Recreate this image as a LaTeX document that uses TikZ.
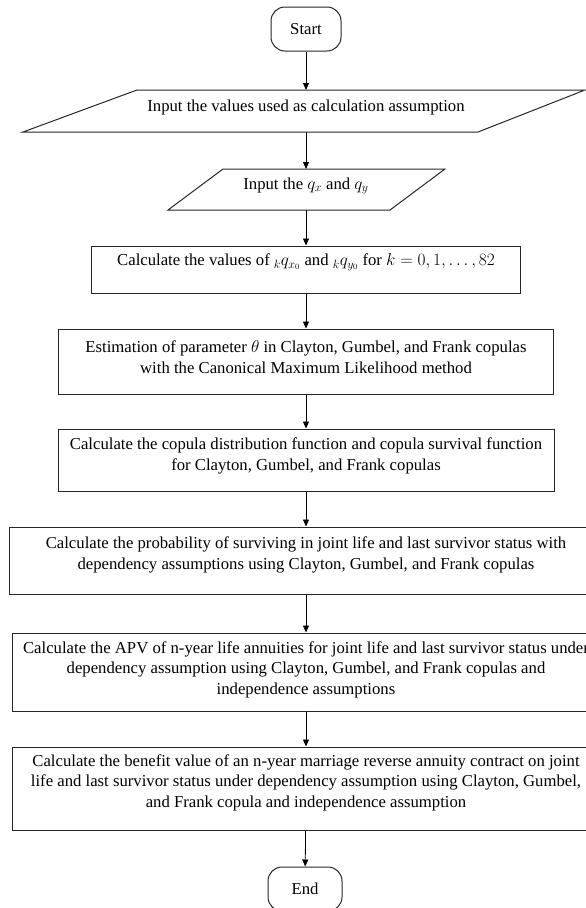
\documentclass[tikz,border=0pt]{standalone}
\usepackage{fontspec}
\setmainfont{Liberation Serif}
\usetikzlibrary{arrows.meta}
\tikzset{
  boxline/.style={draw=black!85, line width=1pt},
  procbox/.style={boxline, rectangle, inner sep=0pt},
  termbox/.style={boxline, rectangle, rounded corners=14pt, inner sep=0pt, minimum width=#1, minimum height=44pt, font=\fontsize{16.7}{20.5}\selectfont},
  txt/.style={align=center, inner sep=0pt, font=\fontsize{16.7}{20.5}\selectfont},
  arr/.style={draw=black, line width=0.8pt, -{Triangle[length=7pt,width=6pt]}},
}
\begin{document}
\begin{tikzpicture}[x=1pt,y=-1pt]
\useasboundingbox (0,0) rectangle (586,908);
% terminals
\node[termbox=70pt] (start) at (306,29) {Start};
\node[termbox=74pt] (stop) at (305,889) {End};
% input parallelograms
\draw[boxline] (137,90) -- (585,90) -- (478,132) -- (23,132) -- cycle;
\coordinate (in1t) at (306,90);
\coordinate (in1b) at (306,132);
\node[txt] (in1) at (306,107) {Input the values used as calculation assumption};
\draw[boxline] (223,169) -- (445,169) -- (390,210) -- (168,210) -- cycle;
\coordinate (in2t) at (306,169);
\coordinate (in2b) at (306,210);
\node[txt] (in2) at (306,186) {Input the $q_x$ and $q_y$};
% process boxes
\node[procbox, minimum width=429pt, minimum height=47pt] (r3) at (306,269.5) {};
\node[txt] (t3) at (306,262) {Calculate the values of ${}_{k}q_{x_0}$ and ${}_{k}q_{y_0}$ for $k = 0, 1, \ldots, 82$};
\node[procbox, minimum width=495pt, minimum height=65pt] (r4) at (306,361.5) {};
\node[txt] (t4) at (306,357) {Estimation of parameter $\theta$ in Clayton, Gumbel, and Frank copulas\\with the Canonical Maximum Likelihood method};
\node[procbox, minimum width=496pt, minimum height=62pt] (r5) at (306,460) {};
\node[txt] (t5) at (306,456) {Calculate the copula distribution function and copula survival function\\for Clayton, Gumbel, and Frank copulas};
\node[procbox, minimum width=594pt, minimum height=67pt] (r6) at (306,560.5) {};
\node[txt] (t6) at (306,555) {Calculate the probability of surviving in joint life and last survivor status with\\dependency assumptions using Clayton, Gumbel, and Frank copulas};
\node[procbox, minimum width=588pt, minimum height=78pt] (r7) at (306,672) {};
\node[txt] (t7) at (306,669.5) {Calculate the APV of n-year life annuities for joint life and last survivor status under\\dependency assumption using Clayton, Gumbel, and Frank copulas and\\independence assumptions};
\node[procbox, minimum width=588pt, minimum height=83pt] (r8) at (306,788.5) {};
\node[txt] (t8) at (306,782.5) {Calculate the benefit value of an n-year marriage reverse annuity contract on joint\\life and last survivor status under dependency assumption using Clayton, Gumbel,\\and Frank copula and independence assumption};
% connectors
\draw[arr] (start) -- (in1t);
\draw[arr] (in1b) -- (in2t);
\draw[arr] (in2b) -- (r3);
\draw[arr] (r3) -- (r4);
\draw[arr] (r4) -- (r5);
\draw[arr] (r5) -- (r6);
\draw[arr] (r6) -- (r7);
\draw[arr] (r7) -- (r8);
\draw[arr] (r8) -- (stop);
\end{tikzpicture}
\end{document}
